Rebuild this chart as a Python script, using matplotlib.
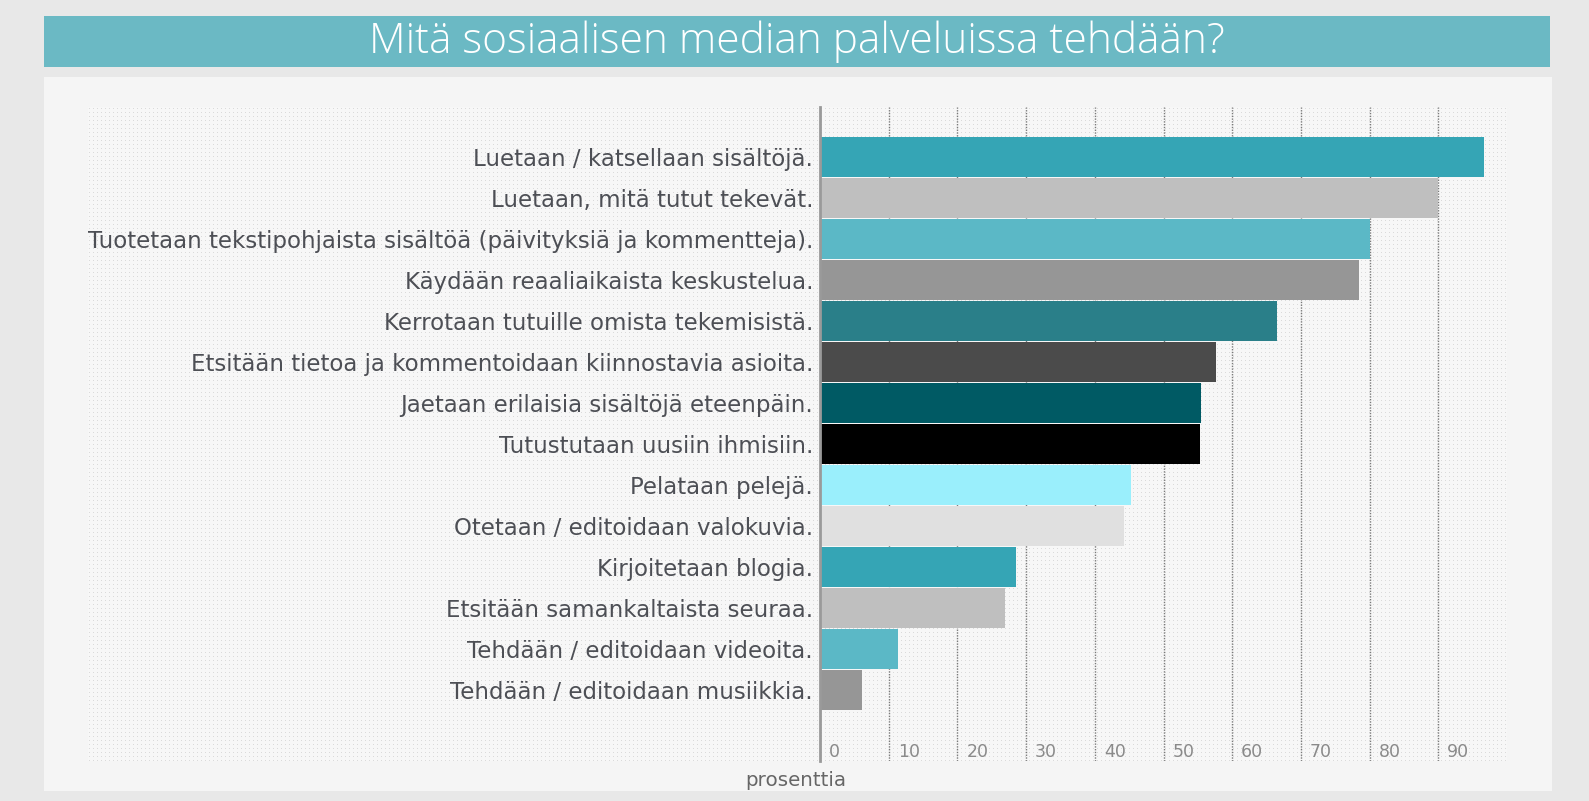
import numpy as np
import matplotlib
matplotlib.use("Agg")
import matplotlib.pyplot as plt
from matplotlib.patches import Rectangle

# data
activities = [
    "Luetaan / katsellaan sisältöjä.",
    "Luetaan, mitä tutut tekevät.",
    "Tuotetaan tekstipohjaista sisältöä (päivityksiä ja kommentteja).",
    "Käydään reaaliaikaista keskustelua.",
    "Kerrotaan tutuille omista tekemisistä.",
    "Etsitään tietoa ja kommentoidaan kiinnostavia asioita.",
    "Jaetaan erilaisia sisältöjä eteenpäin.",
    "Tutustutaan uusiin ihmisiin.",
    "Pelataan pelejä.",
    "Otetaan / editoidaan valokuvia.",
    "Kirjoitetaan blogia.",
    "Etsitään samankaltaista seuraa.",
    "Tehdään / editoidaan videoita.",
    "Tehdään / editoidaan musiikkia.",
]
percent = [96.7, 90.0, 80.0, 78.5, 66.5, 57.7, 55.5, 55.3, 45.2, 44.3, 28.5, 26.9, 11.4, 6.1]
bar_colors = ["#35a5b5", "#bfbfbf", "#5bb8c6", "#969696", "#2a7f89", "#4b4b4b", "#005a64",
              "#000000", "#9aeffc", "#e0e0e0", "#35a5b5", "#bfbfbf", "#5bb8c6", "#969696"]
xticks = list(range(0, 100, 10))

title = "Mitä sosiaalisen median palveluissa tehdään?"
xlabel = "prosenttia"

W, H = 1589, 801
fig = plt.figure(figsize=(W / 100, H / 100), dpi=100)
fig.patch.set_facecolor("#e8e8e8")

def px_rect(x0, y0, x1, y1, color, z):
    # rectangle given in pixel coords, top-left origin
    r = Rectangle((x0 / W, 1 - y1 / H), (x1 - x0) / W, (y1 - y0) / H,
                  transform=fig.transFigure, facecolor=color, edgecolor="none", zorder=z)
    fig.patches.append(r)

# title band and white panel
px_rect(44, 16, 1550, 67, "#6bb9c4", -10)
px_rect(44, 77, 1552, 791, "#f5f5f5", -10)
fig.text(797 / W, 1 - 42 / H, title, ha="center", va="center", color="white",
         fontsize=30.5, family="Open Sans", weight="light")

# dotted background area
dx0, dy0, dx1, dy1 = 88, 107, 1507, 761
pat = np.ones((dy1 - dy0, dx1 - dx0, 3)) * (247 / 255)
pat[1::4, 1::4, :] = 218 / 255
bg = fig.figimage(pat, xo=dx0, yo=H - dy1)
bg.set_zorder(-5)

# axes for the bars
ax_x0, ax_x1 = 820, 1507
ax = fig.add_axes([ax_x0 / W, 1 - dy1 / H, (ax_x1 - ax_x0) / W, (dy1 - dy0) / H])
ax.patch.set_visible(False)

y = np.arange(len(activities))
ax.barh(y, percent, height=0.98, color=bar_colors, zorder=3)
ax.set_xlim(0, 100)
ax.set_ylim(14.74, -1.21)

ax.set_yticks(y)
ax.set_yticklabels(activities, family="DejaVu Sans", fontsize=16.5, color="#4d4f55")
ax.tick_params(axis="y", length=0, pad=5)
ax.set_xticks(xticks)
ax.tick_params(axis="x", length=0, labelbottom=False)
ax.grid(axis="x", color="#7a7a7a", linestyle=(0, (1, 1)), linewidth=1)
ax.grid(axis="y", visible=False)
ax.set_axisbelow(True)

for s in ["top", "right", "bottom"]:
    ax.spines[s].set_visible(False)
ax.spines["left"].set_color("#9a9a9a")
ax.spines["left"].set_linewidth(2)
ax.spines["left"].set_zorder(4)

for t in xticks:
    ax.text(t + 1.3, 0.0, str(t), transform=ax.get_xaxis_transform(), ha="left",
            va="bottom", fontsize=12.5, color="#8a8a8a", family="DejaVu Sans")

fig.text(796 / W, 1 - 780 / H, xlabel, ha="center", va="center", fontsize=14.3,
         color="#666666", family="DejaVu Sans")

fig.savefig("out.png", dpi=100, facecolor=fig.get_facecolor())
